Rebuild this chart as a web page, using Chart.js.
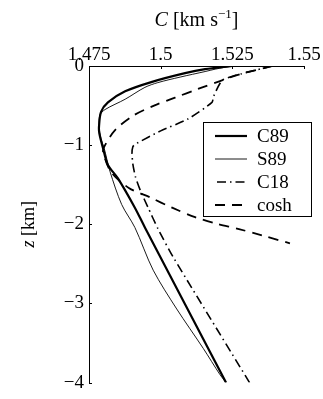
<!DOCTYPE html>
<html>
<head>
<meta charset="utf-8">
<script src="https://cdn.jsdelivr.net/npm/chart.js@4.4.0/dist/chart.umd.min.js"></script>
<style>
  html, body { margin: 0; padding: 0; background: #fff; }
  #wrap { position: relative; width: 323px; height: 399px; }
</style>
</head>
<body>
<div id="wrap"><canvas id="chart"></canvas></div>
<script>
// Sound speed profiles: C [km/s] against depth z [km]
const c89C = [1.5249, 1.5155, 1.5085, 1.4970, 1.4876, 1.4816, 1.4792, 1.4785, 1.4786, 1.4799, 1.4816, 1.4851, 1.4910, 1.4945, 1.5228];
const c89Z = [0, -0.04, -0.09, -0.20, -0.32, -0.46, -0.58, -0.76, -0.85, -1.04, -1.25, -1.42, -1.79, -2.04, -4.0];

const s89C = [1.5249, 1.5190, 1.5155, 1.5068, 1.4990, 1.4945, 1.4876, 1.4806, 1.4788, 1.4785, 1.4792, 1.4803, 1.4823, 1.4864, 1.4910, 1.4974, 1.5056, 1.5149, 1.5207, 1.5228];
const s89Z = [0, -0.04, -0.07, -0.14, -0.21, -0.27, -0.42, -0.55, -0.62, -0.76, -0.92, -1.04, -1.33, -1.75, -2.04, -2.58, -3.07, -3.57, -3.90, -4.0];

const c18C = [1.5390, 1.5280, 1.5215, 1.5185, 1.5179, 1.5095, 1.5000, 1.4910, 1.4903, 1.4900, 1.4903, 1.4912, 1.4930, 1.4955, 1.4991, 1.5043, 1.5310];
const c18Z = [0, -0.10, -0.18, -0.38, -0.46, -0.67, -0.82, -0.99, -1.02, -1.10, -1.24, -1.40, -1.58, -1.78, -2.06, -2.41, -4.0];

const coshC = [1.5390, 1.5280, 1.5207, 1.5130, 1.5050, 1.4977, 1.4903, 1.4841, 1.4806, 1.4799, 1.4827, 1.4889, 1.4963, 1.5040, 1.5120, 1.5193, 1.5273, 1.5353, 1.5451];
const coshZ = [0, -0.10, -0.19, -0.29, -0.40, -0.50, -0.63, -0.81, -1.00, -1.08, -1.34, -1.54, -1.66, -1.79, -1.91, -1.99, -2.06, -2.14, -2.24];

const xTicks = [1.475, 1.5, 1.525, 1.55];
const yTicks = [0, -1, -2, -3, -4];

const FONT = 'Liberation Serif';

function pts(cs, zs) {
  return cs.map((c, i) => ({ x: c, y: zs[i] }));
}

function minus(v) {
  return v < 0 ? '\u2212' + Math.abs(v) : String(v);
}

// axis titles, inward ticks and the boxed legend
const extras = {
  id: 'extras',
  afterDraw(chart) {
    const { ctx, chartArea: a, scales: { x, y } } = chart;
    ctx.save();
    ctx.strokeStyle = '#000';
    ctx.fillStyle = '#000';
    ctx.lineWidth = 1;

    ctx.beginPath();
    xTicks.forEach(v => {
      const px = Math.round(x.getPixelForValue(v)) + 0.5;
      ctx.moveTo(px, a.top);
      ctx.lineTo(px, a.top + 3);
    });
    yTicks.forEach(v => {
      const py = Math.round(y.getPixelForValue(v)) + 0.5;
      ctx.moveTo(a.left, py);
      ctx.lineTo(a.left + 3, py);
    });
    ctx.stroke();

    // top title: C [km s^-1]
    const parts = [
      { t: 'C', f: 'italic 20px ' + FONT, dy: 0 },
      { t: ' [km s', f: '20px ' + FONT, dy: 0 },
      { t: '\u22121', f: '13px ' + FONT, dy: -8 },
      { t: ']', f: '20px ' + FONT, dy: 0 },
    ];
    let total = 0;
    parts.forEach(p => { ctx.font = p.f; p.w = ctx.measureText(p.t).width; total += p.w; });
    let tx = (a.left + a.right) / 2 - total / 2;
    ctx.textBaseline = 'alphabetic';
    ctx.textAlign = 'left';
    parts.forEach(p => { ctx.font = p.f; ctx.fillText(p.t, tx, 26 + p.dy); tx += p.w; });

    // left title: z [km], rotated
    ctx.save();
    ctx.translate(34, (a.top + a.bottom) / 2);
    ctx.rotate(-Math.PI / 2);
    const yp = [
      { t: 'z', f: 'italic 18px ' + FONT },
      { t: ' [km]', f: '18px ' + FONT },
    ];
    let yw = 0;
    yp.forEach(p => { ctx.font = p.f; p.w = ctx.measureText(p.t).width; yw += p.w; });
    let ty = -yw / 2;
    yp.forEach(p => { ctx.font = p.f; ctx.fillText(p.t, ty, 0); ty += p.w; });
    ctx.restore();

    // legend box
    const bx = a.right - 101, by = a.top + 56, bw = 108, bh = 94;
    ctx.fillStyle = '#fff';
    ctx.fillRect(bx, by, bw, bh);
    ctx.strokeStyle = '#000';
    ctx.lineWidth = 1;
    ctx.strokeRect(bx + 0.5, by + 0.5, bw, bh);
    chart.data.datasets.forEach((ds, i) => {
      const ry = by + 14 + i * 23;
      ctx.beginPath();
      ctx.lineWidth = ds.borderWidth;
      ctx.setLineDash(ds.borderDash || []);
      ctx.lineDashOffset = ds.legendDashOffset || 0;
      ctx.moveTo(bx + 12, ry);
      ctx.lineTo(bx + 44, ry);
      ctx.stroke();
      ctx.setLineDash([]);
      ctx.fillStyle = '#000';
      ctx.font = '19px ' + FONT;
      ctx.textBaseline = 'middle';
      ctx.fillText(ds.label, bx + 54, ry + 1);
    });
    ctx.restore();
  }
};

new Chart(document.getElementById('chart'), {
  type: 'scatter',
  data: {
    datasets: [
      { label: 'C89', data: pts(c89C, c89Z), showLine: true, borderColor: '#000', borderWidth: 2.2, pointRadius: 0, tension: 0.3 },
      { label: 'S89', data: pts(s89C, s89Z), showLine: true, borderColor: '#000', borderWidth: 0.9, pointRadius: 0, tension: 0.3 },
      { label: 'C18', data: pts(c18C, c18Z), showLine: true, borderColor: '#000', borderWidth: 1.6, borderDash: [9, 4, 1.5, 4], legendDashOffset: -2, pointRadius: 0, tension: 0.2 },
      { label: 'cosh', data: pts(coshC, coshZ), showLine: true, borderColor: '#000', borderWidth: 1.8, borderDash: [10, 7], pointRadius: 0, tension: 0.3 },
    ],
  },
  options: {
    responsive: true,
    maintainAspectRatio: false,
    animation: false,
    layout: { padding: { left: 0, top: 0, right: 19, bottom: 11 } },
    plugins: { legend: { display: false }, tooltip: { enabled: false } },
    scales: {
      x: {
        type: 'linear',
        position: 'top',
        min: 1.475,
        max: 1.55,
        afterBuildTicks: s => { s.ticks = xTicks.map(v => ({ value: v })); },
        afterFit: s => { s.height = 66; },
        grid: { display: false, drawTicks: false },
        border: { display: true, color: '#000', width: 1 },
        ticks: { color: '#000', padding: 0, maxRotation: 0, font: { family: FONT, size: 19 }, callback: v => String(v) },
      },
      y: {
        type: 'linear',
        min: -4,
        max: 0,
        afterBuildTicks: s => { s.ticks = yTicks.map(v => ({ value: v })); },
        afterFit: s => { s.width = 89; },
        grid: { display: false, drawTicks: false },
        border: { display: true, color: '#000', width: 1 },
        ticks: { color: '#000', padding: 5, font: { family: FONT, size: 19 }, callback: v => minus(v) },
      },
    },
  },
  plugins: [extras],
});
</script>
</body>
</html>
